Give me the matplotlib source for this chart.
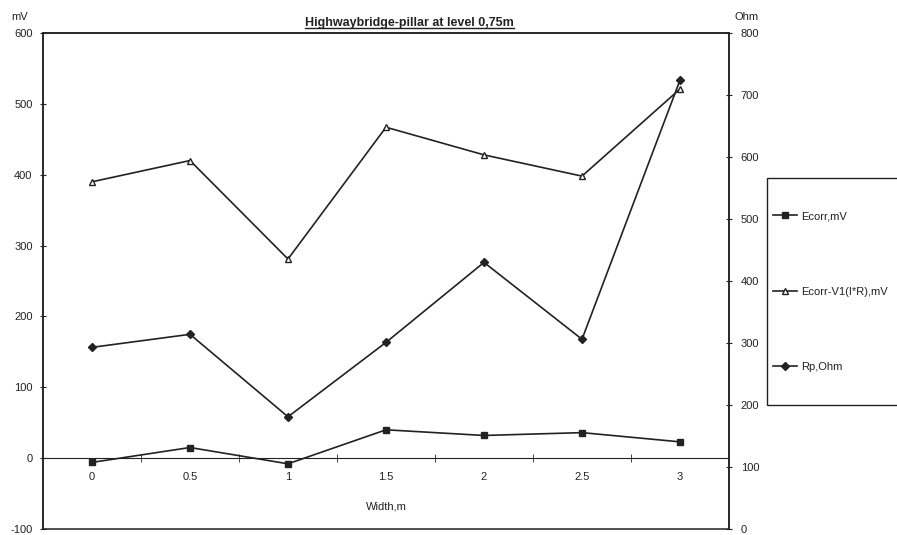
import numpy as np
import matplotlib
matplotlib.use("Agg")
import matplotlib.pyplot as plt
from matplotlib.patches import Rectangle
from matplotlib.lines import Line2D


# data
width_labels = ["0", "0.5", "1", "1.5", "2", "2.5", "3"]
ecorr_mv = [-6, 15, -8, 40, 32, 36, 23]
ecorr_v1_mv = [390, 420, 281, 467, 428, 398, 521]
rp_ohm = [293, 314, 181, 301, 430, 306, 724]

INK = "#222222"
plt.rcParams["font.family"] = ["Liberation Sans", "DejaVu Sans"]
plt.rcParams["font.size"] = 8
plt.rcParams["axes.unicode_minus"] = False

fig = plt.figure(figsize=(8.97, 5.35), dpi=100)
ax = fig.add_axes([43 / 897, 6 / 535, 686 / 897, 496 / 535])
ax2 = ax.twinx()

x = np.arange(len(width_labels))

### left axis (mV)
ax.plot(x, ecorr_mv, color=INK, lw=1.2, marker="s", ms=5, mfc=INK, mec=INK)
ax.plot(x, ecorr_v1_mv, color=INK, lw=1.2, marker="^", ms=5, mfc="white", mec=INK, mew=1)
ax.set_ylim(-100, 600)
ax.set_yticks(range(-100, 601, 100))
ax.set_xlim(-0.5, len(width_labels) - 0.5)

# category axis sits on the zero line, ticks between categories
ax.spines["bottom"].set_position(("data", 0))
ax.spines["bottom"].set_color(INK)
ax.set_xticks(x)
ax.set_xticklabels(width_labels)
ax.set_xticks(x[:-1] + 0.5, minor=True)
ax.tick_params(axis="x", which="major", length=0, pad=10, colors=INK)
ax.tick_params(axis="x", which="minor", length=6, direction="inout", color=INK)
ax.set_xlabel("Width,m", color=INK, labelpad=14)
ax.tick_params(axis="y", direction="inout", length=5, pad=5, colors=INK)
for s in ["left", "top", "right"]:
    ax.spines[s].set_color(INK)
    ax.spines[s].set_linewidth(1.1)

### right axis (Ohm)
ax2.plot(x, rp_ohm, color=INK, lw=1.2, marker="D", ms=4, mfc=INK, mec=INK)
ax2.set_ylim(0, 800)
ax2.set_yticks(range(0, 801, 100))
ax2.tick_params(axis="y", direction="inout", length=5, pad=6, colors=INK)
for s in ax2.spines.values():
    s.set_color(INK)
    s.set_linewidth(1.1)

ax.annotate("mV", xy=(-0.034, 1.032), xycoords="axes fraction", ha="center", va="center", color=INK)
ax.annotate("Ohm", xy=(1.026, 1.032), xycoords="axes fraction", ha="center", va="center", color=INK)

title = ax.text(0.534, 1.008, "Highwaybridge-pillar at level 0,75m", transform=ax.transAxes,
                ha="center", va="bottom", fontsize=9, fontweight="bold", color=INK)

# underline the title
fig.canvas.draw()
bb = title.get_window_extent().transformed(fig.transFigure.inverted())
fig.add_artist(Line2D([bb.x0, bb.x1], [bb.y0 + 0.002, bb.y0 + 0.002], transform=fig.transFigure,
                      color=INK, lw=1))

### legend, box runs off the right edge like the scan
handles = ax.get_lines() + ax2.get_lines()
labels = ["Ecorr,mV", "Ecorr-V1(I*R),mV", "Rp,Ohm"]
fig.legend(handles, labels, loc="upper left", bbox_to_anchor=(773 / 897, 1 - 211 / 535),
           frameon=False, borderpad=0, borderaxespad=0, handlelength=2.2,
           handletextpad=0.3, labelspacing=5.9, fontsize=8, labelcolor=INK)
fig.add_artist(Rectangle((767 / 897, 1 - 405 / 535), 0.2, 227 / 535, transform=fig.transFigure,
                         fill=False, edgecolor=INK, lw=1))

fig.savefig("out.png", dpi=100, facecolor="white")
